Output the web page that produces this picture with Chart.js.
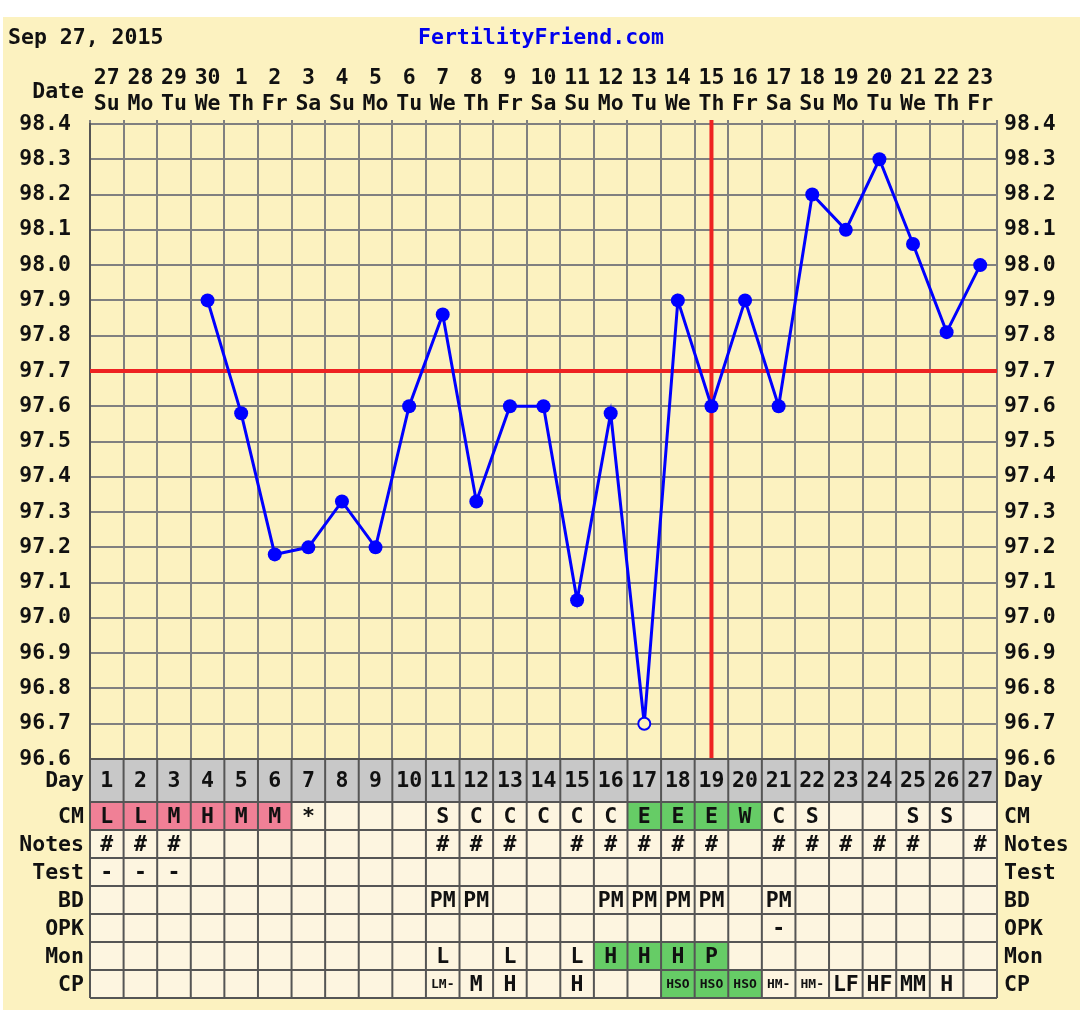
<!DOCTYPE html>
<html>
<head>
<meta charset="utf-8">
<title>FertilityFriend chart</title>
<script src="https://cdn.jsdelivr.net/npm/chart.js@4/dist/chart.umd.min.js"></script>
<style>
  html, body { margin: 0; padding: 0; background: #fff; overflow: hidden; }
  canvas { display: block; }
</style>
</head>
<body>
<canvas id="ffChart" width="1080" height="1010"></canvas>
<script>
const chartDate = "Sep 27, 2015";
const siteName = "FertilityFriend.com";

// one entry per cycle day
const cycleDays = [1, 2, 3, 4, 5, 6, 7, 8, 9, 10, 11, 12, 13, 14, 15, 16, 17, 18, 19, 20, 21, 22, 23, 24, 25, 26, 27];
const dates = ["27", "28", "29", "30", "1", "2", "3", "4", "5", "6", "7", "8", "9", "10", "11", "12", "13", "14", "15", "16", "17", "18", "19", "20", "21", "22", "23"];
const weekdays = ["Su", "Mo", "Tu", "We", "Th", "Fr", "Sa", "Su", "Mo", "Tu", "We", "Th", "Fr", "Sa", "Su", "Mo", "Tu", "We", "Th", "Fr", "Sa", "Su", "Mo", "Tu", "We", "Th", "Fr"];
const temps = [null, null, null, 97.9, 97.58, 97.18, 97.2, 97.33, 97.2, 97.6, 97.86, 97.33, 97.6, 97.6, 97.05, 97.58, 96.7, 97.9, 97.6, 97.9, 97.6, 98.2, 98.1, 98.3, 98.06, 97.81, 98.0];
const openPointDays = [17]; // discarded temps drawn hollow
const tempTicks = [96.6, 96.7, 96.8, 96.9, 97.0, 97.1, 97.2, 97.3, 97.4, 97.5, 97.6, 97.7, 97.8, 97.9, 98.0, 98.1, 98.2, 98.3, 98.4];
const coverline = 97.7;
const ovulationDay = 19;

// table rows under the chart
const cmRow = ["L", "L", "M", "H", "M", "M", "*", "", "", "", "S", "C", "C", "C", "C", "C", "E", "E", "E", "W", "C", "S", "", "", "S", "S", ""];
const notesRow = ["#", "#", "#", "", "", "", "", "", "", "", "#", "#", "#", "", "#", "#", "#", "#", "#", "", "#", "#", "#", "#", "#", "", "#"];
const testRow = ["-", "-", "-", "", "", "", "", "", "", "", "", "", "", "", "", "", "", "", "", "", "", "", "", "", "", "", ""];
const bdRow = ["", "", "", "", "", "", "", "", "", "", "PM", "PM", "", "", "", "PM", "PM", "PM", "PM", "", "PM", "", "", "", "", "", ""];
const opkRow = ["", "", "", "", "", "", "", "", "", "", "", "", "", "", "", "", "", "", "", "", "-", "", "", "", "", "", ""];
const monRow = ["", "", "", "", "", "", "", "", "", "", "L", "", "L", "", "L", "H", "H", "H", "P", "", "", "", "", "", "", "", ""];
const cpRow = ["", "", "", "", "", "", "", "", "", "", "LM-", "M", "H", "", "H", "", "", "HSO", "HSO", "HSO", "HM-", "HM-", "LF", "HF", "MM", "H", ""];
const periodDays = [1, 2, 3, 4, 5, 6];
const fertileSigns = { CM: ["E", "W"], Mon: ["H", "P"], CP: ["HSO"] };

const tableRows = [
  { label: "CM", values: cmRow },
  { label: "Notes", values: notesRow },
  { label: "Test", values: testRow },
  { label: "BD", values: bdRow },
  { label: "OPK", values: opkRow },
  { label: "Mon", values: monRow },
  { label: "CP", values: cpRow },
];

const YELLOW = "#fcf2c0";
const CREAM = "#fdf5e0";
const GRID = "#808080";
const DARK = "#555555";
const FONT = "'DejaVu Sans Mono', 'Liberation Mono', monospace";

Chart.defaults.font.family = FONT;
Chart.defaults.font.weight = "bold";
Chart.defaults.font.size = 21.5;
Chart.defaults.color = "#111";

const chartFrame = {
  id: "chartFrame",
  beforeDraw(chart) {
    const { ctx, width, height } = chart;
    ctx.save();
    ctx.fillStyle = "#fff";
    ctx.fillRect(0, 0, width, height);
    ctx.fillStyle = YELLOW;
    ctx.fillRect(3, 17, width - 3, height - 17);
    ctx.font = `bold 21.5px ${FONT}`;
    ctx.textBaseline = "middle";
    ctx.fillStyle = "#111";
    ctx.textAlign = "left";
    ctx.fillText(chartDate, 8, 38);
    ctx.fillStyle = "#0000ee";
    ctx.textAlign = "center";
    ctx.fillText(siteName, 541, 38);
    ctx.fillStyle = "#111";
    ctx.textAlign = "right";
    ctx.fillText("Date", 84, 92);
    ctx.restore();
  },
};

// coverline and ovulation line, under the temps
const chartMarkers = {
  id: "chartMarkers",
  beforeDatasetsDraw(chart) {
    const { ctx, chartArea, scales } = chart;
    const yCover = scales.y.getPixelForValue(coverline);
    const xOv = scales.x.getPixelForValue(cycleDays.indexOf(ovulationDay));
    ctx.save();
    ctx.strokeStyle = "#ee2222";
    ctx.lineWidth = 4;
    ctx.beginPath();
    ctx.moveTo(chartArea.left, yCover);
    ctx.lineTo(chartArea.right, yCover);
    ctx.moveTo(xOv, chartArea.top - 4);
    ctx.lineTo(xOv, chartArea.bottom);
    ctx.stroke();
    ctx.restore();
  },
};

function cellColor(label, day, value) {
  if (label === "Day") return "#c8c8c8";
  if (label === "CM" && periodDays.includes(day)) return "#f08096";
  if (fertileSigns[label] && fertileSigns[label].includes(value)) return "#66cc66";
  return CREAM;
}

const chartTable = {
  id: "chartTable",
  afterDraw(chart) {
    const { ctx, chartArea, scales: { x } } = chart;
    const colW = x.getPixelForValue(1) - x.getPixelForValue(0);
    const rows = [{ label: "Day", values: cycleDays.map(String), height: 43 }]
      .concat(tableRows.map((r) => ({ ...r, height: 28 })));

    ctx.save();
    ctx.textBaseline = "middle";
    let top = chartArea.bottom;
    const rowTops = [];
    rows.forEach((row) => {
      rowTops.push(top);
      const mid = top + row.height / 2 + 1;
      cycleDays.forEach((day, i) => {
        const cx = x.getPixelForValue(i);
        const value = row.values[i];
        ctx.fillStyle = cellColor(row.label, day, value);
        ctx.fillRect(cx - colW / 2, top, colW, row.height);
        if (value) {
          ctx.fillStyle = "#111";
          ctx.textAlign = "center";
          ctx.font = value.length > 2 ? `bold 13px ${FONT}` : `bold 21.5px ${FONT}`;
          ctx.fillText(value, cx, mid, colW - 4);
        }
      });
      ctx.fillStyle = "#111";
      ctx.font = `bold 21.5px ${FONT}`;
      ctx.textAlign = "right";
      ctx.fillText(row.label, chartArea.left - 6, mid);
      ctx.textAlign = "left";
      ctx.fillText(row.label, chartArea.right + 7, mid);
      top += row.height;
    });
    rowTops.push(top);

    ctx.strokeStyle = DARK;
    ctx.lineWidth = 2;
    ctx.beginPath();
    rowTops.forEach((y) => {
      ctx.moveTo(chartArea.left, y);
      ctx.lineTo(chartArea.right, y);
    });
    for (let i = 0; i <= cycleDays.length; i++) {
      const bx = x.getPixelForValue(i) - colW / 2;
      ctx.moveTo(bx, chartArea.bottom);
      ctx.lineTo(bx, top);
    }
    ctx.stroke();
    ctx.restore();
  },
};

const isOpen = (i) => openPointDays.includes(cycleDays[i]);

new Chart(document.getElementById("ffChart"), {
  type: "line",
  data: {
    labels: cycleDays.map((d, i) => [dates[i], weekdays[i]]),
    datasets: [
      {
        data: temps,
        borderColor: "#0000ff",
        borderWidth: 3,
        tension: 0,
        spanGaps: false,
        pointRadius: temps.map((t, i) => (isOpen(i) ? 6 : 7)),
        pointBackgroundColor: temps.map((t, i) => (isOpen(i) ? YELLOW : "#0000ff")),
        pointBorderColor: "#0000ff",
        pointBorderWidth: temps.map((t, i) => (isOpen(i) ? 2 : 0)),
      },
    ],
  },
  options: {
    responsive: false,
    animation: false,
    layout: { padding: { top: 0, left: 0, right: 0, bottom: 251 } },
    plugins: { legend: { display: false }, tooltip: { enabled: false } },
    scales: {
      x: {
        position: "top",
        offset: true,
        grid: { offset: true, color: GRID, lineWidth: 2, tickLength: 4 },
        border: { color: GRID, width: 2 },
        ticks: { autoSkip: false, maxRotation: 0, minRotation: 0, padding: 3 },
        afterFit(scale) { scale.height = 124; },
      },
      y: {
        position: "left",
        min: 96.6,
        max: 98.4,
        afterBuildTicks(scale) { scale.ticks = tempTicks.map((v) => ({ value: v })); },
        ticks: { padding: 19, callback: (v) => Number(v).toFixed(1) },
        grid: { color: GRID, lineWidth: 2, drawTicks: false },
        border: { color: DARK, width: 2 },
        afterFit(scale) { scale.width = 90; },
      },
      yRight: {
        position: "right",
        min: 96.6,
        max: 98.4,
        afterBuildTicks(scale) { scale.ticks = tempTicks.map((v) => ({ value: v })); },
        ticks: { padding: 7, callback: (v) => Number(v).toFixed(1) },
        grid: { display: false, drawTicks: false },
        border: { color: GRID, width: 2 },
        afterFit(scale) { scale.width = 83; },
      },
    },
  },
  plugins: [chartFrame, chartMarkers, chartTable],
});
</script>
</body>
</html>
